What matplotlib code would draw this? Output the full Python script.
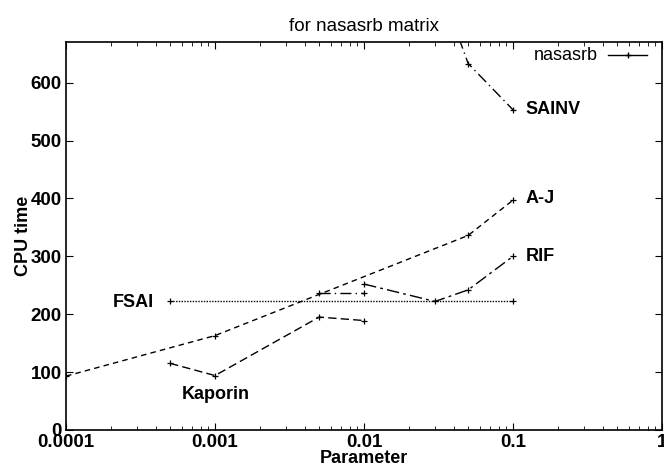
import matplotlib
matplotlib.use("Agg")
import matplotlib.pyplot as plt
from matplotlib.ticker import FixedLocator, FixedFormatter, LogLocator, NullFormatter

plt.rcParams['font.family'] = ['Liberation Sans', 'DejaVu Sans']

# data
aj_x = [0.0001, 0.001, 0.05, 0.1]
aj_y = [93, 163, 336, 397]

kap_x = [0.0005, 0.001, 0.005, 0.01]
kap_y = [115, 94, 195, 189]

rif_x = [0.01, 0.03, 0.05, 0.1]
rif_y = [252, 222, 242, 300]

fsai_x = [0.0005, 0.1]
fsai_y = [222, 222]

sainv_x = [0.03, 0.05, 0.1]
sainv_y = [790, 633, 553]

extra_x = [0.005, 0.01]
extra_y = [236, 236]

xticks = [0.0001, 0.001, 0.01, 0.1, 1]
xticklabels = ['0.0001', '0.001', '0.01', '0.1', '1']
yticks = [0, 100, 200, 300, 400, 500, 600]

fig = plt.figure(figsize=(6.64, 4.73), dpi=100)
ax = fig.add_axes([0.0994, 0.091, 0.8976, 0.820])

mk = dict(marker='+', markersize=5, markeredgewidth=0.9, color='k', linewidth=1.0)
ax.plot(aj_x, aj_y, linestyle=(0, (4, 3)), **mk)
ax.plot(kap_x, kap_y, linestyle=(0, (6, 3)), **mk)
ax.plot(rif_x, rif_y, linestyle=(0, (9, 3, 2, 3)), **mk)
ax.plot(fsai_x, fsai_y, linestyle=(0, (1, 1)), **mk)
ax.plot(sainv_x, sainv_y, linestyle=(0, (8, 3, 1, 3)), **mk)
ax.plot(extra_x, extra_y, linestyle=(0, (8, 3, 1, 3)), **mk)

# key entry, gnuplot style
ax.plot([0.437, 0.794], [647, 647], color='k', linewidth=1.0)
ax.plot([0.59], [647], marker='+', color='k', markersize=5)
ax.text(0.37, 647, 'nasasrb', ha='right', va='center', fontsize=13)

lab = dict(fontsize=13, fontweight='bold', va='center')
ax.text(0.121, 553, 'SAINV', ha='left', **lab)
ax.text(0.121, 399, 'A-J', ha='left', **lab)
ax.text(0.121, 300, 'RIF', ha='left', **lab)
ax.text(0.00039, 221, 'FSAI', ha='right', **lab)
ax.text(0.0006, 62, 'Kaporin', ha='left', **lab)

ax.set_xscale('log')
ax.set_xlim(0.0001, 1)
ax.set_ylim(0, 670)
ax.xaxis.set_major_locator(FixedLocator(xticks))
ax.xaxis.set_major_formatter(FixedFormatter(xticklabels))
ax.xaxis.set_minor_locator(LogLocator(base=10, subs=range(2, 10)))
ax.xaxis.set_minor_formatter(NullFormatter())
ax.set_yticks(yticks)

ax.tick_params(which='both', direction='in', top=True, right=True,
               labelsize=13.5, pad=3)
ax.tick_params(which='major', length=5)
ax.tick_params(which='minor', length=3)
for t in ax.get_xticklabels() + ax.get_yticklabels():
    t.set_fontweight('bold')

for s in ax.spines.values():
    s.set_linewidth(1.2)

ax.set_title('for nasasrb matrix', fontsize=13.5, pad=8)
ax.set_xlabel('Parameter', fontsize=13, fontweight='bold', labelpad=-1)
ax.set_ylabel('CPU time', fontsize=13, fontweight='bold', labelpad=-1)

fig.savefig('out.png', dpi=100)
